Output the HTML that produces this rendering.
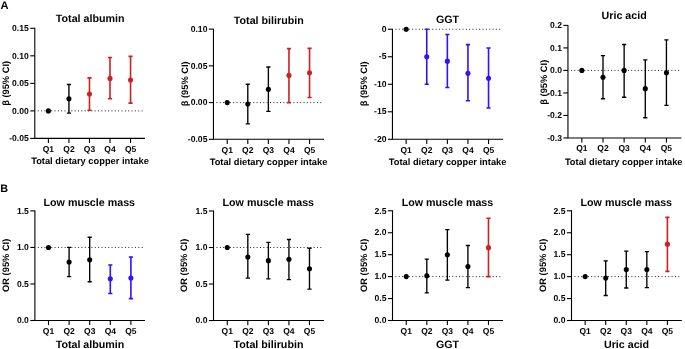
<!DOCTYPE html><html><head><meta charset="utf-8"><style>html,body{margin:0;padding:0;background:#fff;}svg{display:block;will-change:transform;filter:blur(0.2px);}text{font-family:"Liberation Sans", sans-serif;font-weight:bold;fill:#000;text-rendering:geometricPrecision;}</style></head><body>
<svg width="685" height="349" viewBox="0 0 685 349">
<rect width="685" height="349" fill="#fff"/>
<text x="0.4" y="8.5" font-size="11.1">A</text>
<text x="0.3" y="191.8" font-size="10.8">B</text>
<line x1="37.75" y1="110.88" x2="142.70" y2="110.88" stroke="#222" stroke-width="1" stroke-dasharray="1 2.35"/>
<path d="M34.80 27.80 V138.40 H145.00" fill="none" stroke="#000" stroke-width="1.10"/>
<line x1="30.20" y1="28.30" x2="34.80" y2="28.30" stroke="#000" stroke-width="1.10"/>
<text x="28.80" y="31.00" font-size="8.60" text-anchor="end">0.15</text>
<line x1="30.20" y1="55.82" x2="34.80" y2="55.82" stroke="#000" stroke-width="1.10"/>
<text x="28.80" y="58.52" font-size="8.60" text-anchor="end">0.10</text>
<line x1="30.20" y1="83.35" x2="34.80" y2="83.35" stroke="#000" stroke-width="1.10"/>
<text x="28.80" y="86.05" font-size="8.60" text-anchor="end">0.05</text>
<line x1="30.20" y1="110.88" x2="34.80" y2="110.88" stroke="#000" stroke-width="1.10"/>
<text x="28.80" y="113.58" font-size="8.60" text-anchor="end">0.00</text>
<line x1="30.20" y1="138.40" x2="34.80" y2="138.40" stroke="#000" stroke-width="1.10"/>
<text x="28.80" y="141.10" font-size="8.60" text-anchor="end">-0.05</text>
<line x1="48.40" y1="138.40" x2="48.40" y2="143.00" stroke="#000" stroke-width="1.10"/>
<text x="48.40" y="151.90" font-size="8.50" text-anchor="middle">Q1</text>
<line x1="68.94" y1="138.40" x2="68.94" y2="143.00" stroke="#000" stroke-width="1.10"/>
<text x="68.94" y="151.90" font-size="8.50" text-anchor="middle">Q2</text>
<line x1="89.47" y1="138.40" x2="89.47" y2="143.00" stroke="#000" stroke-width="1.10"/>
<text x="89.47" y="151.90" font-size="8.50" text-anchor="middle">Q3</text>
<line x1="110.01" y1="138.40" x2="110.01" y2="143.00" stroke="#000" stroke-width="1.10"/>
<text x="110.01" y="151.90" font-size="8.50" text-anchor="middle">Q4</text>
<line x1="130.55" y1="138.40" x2="130.55" y2="143.00" stroke="#000" stroke-width="1.10"/>
<text x="130.55" y="151.90" font-size="8.50" text-anchor="middle">Q5</text>
<circle cx="48.40" cy="110.88" r="2.55" fill="#000000"/>
<path d="M68.94 84.45 V113.08 M66.84 84.45 H71.04 M66.84 113.08 H71.04" fill="none" stroke="#000000" stroke-width="1.35"/>
<circle cx="68.94" cy="98.76" r="2.55" fill="#000000"/>
<path d="M89.47 77.84 V110.32 M87.38 77.84 H91.57 M87.38 110.32 H91.57" fill="none" stroke="#cc2222" stroke-width="1.60"/>
<circle cx="89.47" cy="93.97" r="2.55" fill="#cc2222"/>
<path d="M110.01 57.48 V98.76 M107.91 57.48 H112.11 M107.91 98.76 H112.11" fill="none" stroke="#cc2222" stroke-width="1.60"/>
<circle cx="110.01" cy="78.40" r="2.55" fill="#cc2222"/>
<path d="M130.55 56.38 V103.17 M128.45 56.38 H132.65 M128.45 103.17 H132.65" fill="none" stroke="#cc2222" stroke-width="1.60"/>
<circle cx="130.55" cy="80.05" r="2.55" fill="#cc2222"/>
<text x="90.20" y="22.10" font-size="10.70" text-anchor="middle">Total albumin</text>
<text x="90.00" y="164.40" font-size="9.30" text-anchor="middle">Total dietary copper intake</text>
<text x="0" y="0" font-size="9.30" text-anchor="middle" transform="translate(9.20 83.40) rotate(-90)">β (95% CI)</text>
<line x1="216.40" y1="102.58" x2="321.70" y2="102.58" stroke="#222" stroke-width="1" stroke-dasharray="1 2.35"/>
<path d="M213.45 28.63 V139.30 H324.00" fill="none" stroke="#000" stroke-width="1.10"/>
<line x1="208.85" y1="29.13" x2="213.45" y2="29.13" stroke="#000" stroke-width="1.10"/>
<text x="207.45" y="31.83" font-size="8.60" text-anchor="end">0.10</text>
<line x1="208.85" y1="65.85" x2="213.45" y2="65.85" stroke="#000" stroke-width="1.10"/>
<text x="207.45" y="68.55" font-size="8.60" text-anchor="end">0.05</text>
<line x1="208.85" y1="102.58" x2="213.45" y2="102.58" stroke="#000" stroke-width="1.10"/>
<text x="207.45" y="105.28" font-size="8.60" text-anchor="end">0.00</text>
<line x1="208.85" y1="139.30" x2="213.45" y2="139.30" stroke="#000" stroke-width="1.10"/>
<text x="207.45" y="142.00" font-size="8.60" text-anchor="end">-0.05</text>
<line x1="227.20" y1="139.30" x2="227.20" y2="143.90" stroke="#000" stroke-width="1.10"/>
<text x="227.20" y="152.80" font-size="8.50" text-anchor="middle">Q1</text>
<line x1="247.79" y1="139.30" x2="247.79" y2="143.90" stroke="#000" stroke-width="1.10"/>
<text x="247.79" y="152.80" font-size="8.50" text-anchor="middle">Q2</text>
<line x1="268.38" y1="139.30" x2="268.38" y2="143.90" stroke="#000" stroke-width="1.10"/>
<text x="268.38" y="152.80" font-size="8.50" text-anchor="middle">Q3</text>
<line x1="288.96" y1="139.30" x2="288.96" y2="143.90" stroke="#000" stroke-width="1.10"/>
<text x="288.96" y="152.80" font-size="8.50" text-anchor="middle">Q4</text>
<line x1="309.55" y1="139.30" x2="309.55" y2="143.90" stroke="#000" stroke-width="1.10"/>
<text x="309.55" y="152.80" font-size="8.50" text-anchor="middle">Q5</text>
<circle cx="227.20" cy="102.58" r="2.55" fill="#000000"/>
<path d="M247.79 84.22 V123.88 M245.69 84.22 H249.89 M245.69 123.88 H249.89" fill="none" stroke="#000000" stroke-width="1.35"/>
<circle cx="247.79" cy="104.05" r="2.55" fill="#000000"/>
<path d="M268.38 66.96 V111.39 M266.27 66.96 H270.48 M266.27 111.39 H270.48" fill="none" stroke="#000000" stroke-width="1.35"/>
<circle cx="268.38" cy="89.36" r="2.55" fill="#000000"/>
<path d="M288.96 48.59 V102.58 M286.86 48.59 H291.06 M286.86 102.58 H291.06" fill="none" stroke="#cc2222" stroke-width="1.60"/>
<circle cx="288.96" cy="75.40" r="2.55" fill="#cc2222"/>
<path d="M309.55 48.37 V97.44 M307.45 48.37 H311.65 M307.45 97.44 H311.65" fill="none" stroke="#cc2222" stroke-width="1.60"/>
<circle cx="309.55" cy="72.68" r="2.55" fill="#cc2222"/>
<text x="268.80" y="23.50" font-size="10.70" text-anchor="middle">Total bilirubin</text>
<text x="268.50" y="164.60" font-size="9.30" text-anchor="middle">Total dietary copper intake</text>
<text x="0" y="0" font-size="9.30" text-anchor="middle" transform="translate(188.20 83.80) rotate(-90)">β (95% CI)</text>
<line x1="395.40" y1="29.24" x2="500.70" y2="29.24" stroke="#222" stroke-width="1" stroke-dasharray="1 2.35"/>
<path d="M392.45 28.74 V139.30 H503.00" fill="none" stroke="#000" stroke-width="1.10"/>
<line x1="387.85" y1="29.24" x2="392.45" y2="29.24" stroke="#000" stroke-width="1.10"/>
<text x="386.45" y="31.94" font-size="8.60" text-anchor="end">0</text>
<line x1="387.85" y1="56.75" x2="392.45" y2="56.75" stroke="#000" stroke-width="1.10"/>
<text x="386.45" y="59.45" font-size="8.60" text-anchor="end">-5</text>
<line x1="387.85" y1="84.27" x2="392.45" y2="84.27" stroke="#000" stroke-width="1.10"/>
<text x="386.45" y="86.97" font-size="8.60" text-anchor="end">-10</text>
<line x1="387.85" y1="111.79" x2="392.45" y2="111.79" stroke="#000" stroke-width="1.10"/>
<text x="386.45" y="114.49" font-size="8.60" text-anchor="end">-15</text>
<line x1="387.85" y1="139.30" x2="392.45" y2="139.30" stroke="#000" stroke-width="1.10"/>
<text x="386.45" y="142.00" font-size="8.60" text-anchor="end">-20</text>
<line x1="406.15" y1="139.30" x2="406.15" y2="143.90" stroke="#000" stroke-width="1.10"/>
<text x="406.15" y="152.80" font-size="8.50" text-anchor="middle">Q1</text>
<line x1="426.75" y1="139.30" x2="426.75" y2="143.90" stroke="#000" stroke-width="1.10"/>
<text x="426.75" y="152.80" font-size="8.50" text-anchor="middle">Q2</text>
<line x1="447.35" y1="139.30" x2="447.35" y2="143.90" stroke="#000" stroke-width="1.10"/>
<text x="447.35" y="152.80" font-size="8.50" text-anchor="middle">Q3</text>
<line x1="467.95" y1="139.30" x2="467.95" y2="143.90" stroke="#000" stroke-width="1.10"/>
<text x="467.95" y="152.80" font-size="8.50" text-anchor="middle">Q4</text>
<line x1="488.55" y1="139.30" x2="488.55" y2="143.90" stroke="#000" stroke-width="1.10"/>
<text x="488.55" y="152.80" font-size="8.50" text-anchor="middle">Q5</text>
<circle cx="406.15" cy="29.24" r="2.55" fill="#000000"/>
<path d="M426.75 29.24 V84.27 M424.65 29.24 H428.85 M424.65 84.27 H428.85" fill="none" stroke="#3311ff" stroke-width="1.60"/>
<circle cx="426.75" cy="56.75" r="2.55" fill="#3311ff"/>
<path d="M447.35 34.47 V87.57 M445.25 34.47 H449.45 M445.25 87.57 H449.45" fill="none" stroke="#3311ff" stroke-width="1.60"/>
<circle cx="447.35" cy="61.16" r="2.55" fill="#3311ff"/>
<path d="M467.95 44.65 V100.78 M465.85 44.65 H470.05 M465.85 100.78 H470.05" fill="none" stroke="#3311ff" stroke-width="1.60"/>
<circle cx="467.95" cy="73.26" r="2.55" fill="#3311ff"/>
<path d="M488.55 47.95 V107.93 M486.45 47.95 H490.65 M486.45 107.93 H490.65" fill="none" stroke="#3311ff" stroke-width="1.60"/>
<circle cx="488.55" cy="78.22" r="2.55" fill="#3311ff"/>
<text x="447.50" y="23.40" font-size="10.70" text-anchor="middle">GGT</text>
<text x="447.60" y="165.00" font-size="9.30" text-anchor="middle">Total dietary copper intake</text>
<text x="0" y="0" font-size="9.30" text-anchor="middle" transform="translate(367.05 83.80) rotate(-90)">β (95% CI)</text>
<line x1="570.90" y1="70.42" x2="679.10" y2="70.42" stroke="#222" stroke-width="1" stroke-dasharray="1 2.35"/>
<path d="M567.95 24.90 V137.96 H681.40" fill="none" stroke="#000" stroke-width="1.10"/>
<line x1="563.35" y1="25.40" x2="567.95" y2="25.40" stroke="#000" stroke-width="1.10"/>
<text x="561.95" y="28.10" font-size="8.60" text-anchor="end">0.2</text>
<line x1="563.35" y1="47.91" x2="567.95" y2="47.91" stroke="#000" stroke-width="1.10"/>
<text x="561.95" y="50.61" font-size="8.60" text-anchor="end">0.1</text>
<line x1="563.35" y1="70.42" x2="567.95" y2="70.42" stroke="#000" stroke-width="1.10"/>
<text x="561.95" y="73.12" font-size="8.60" text-anchor="end">0.0</text>
<line x1="563.35" y1="92.94" x2="567.95" y2="92.94" stroke="#000" stroke-width="1.10"/>
<text x="561.95" y="95.64" font-size="8.60" text-anchor="end">-0.1</text>
<line x1="563.35" y1="115.45" x2="567.95" y2="115.45" stroke="#000" stroke-width="1.10"/>
<text x="561.95" y="118.15" font-size="8.60" text-anchor="end">-0.2</text>
<line x1="563.35" y1="137.96" x2="567.95" y2="137.96" stroke="#000" stroke-width="1.10"/>
<text x="561.95" y="140.66" font-size="8.60" text-anchor="end">-0.3</text>
<line x1="581.85" y1="137.96" x2="581.85" y2="142.56" stroke="#000" stroke-width="1.10"/>
<text x="581.85" y="151.46" font-size="8.50" text-anchor="middle">Q1</text>
<line x1="603.00" y1="137.96" x2="603.00" y2="142.56" stroke="#000" stroke-width="1.10"/>
<text x="603.00" y="151.46" font-size="8.50" text-anchor="middle">Q2</text>
<line x1="624.14" y1="137.96" x2="624.14" y2="142.56" stroke="#000" stroke-width="1.10"/>
<text x="624.14" y="151.46" font-size="8.50" text-anchor="middle">Q3</text>
<line x1="645.28" y1="137.96" x2="645.28" y2="142.56" stroke="#000" stroke-width="1.10"/>
<text x="645.28" y="151.46" font-size="8.50" text-anchor="middle">Q4</text>
<line x1="666.43" y1="137.96" x2="666.43" y2="142.56" stroke="#000" stroke-width="1.10"/>
<text x="666.43" y="151.46" font-size="8.50" text-anchor="middle">Q5</text>
<circle cx="581.85" cy="70.42" r="2.55" fill="#000000"/>
<path d="M603.00 55.57 V98.79 M600.89 55.57 H605.10 M600.89 98.79 H605.10" fill="none" stroke="#000000" stroke-width="1.35"/>
<circle cx="603.00" cy="77.18" r="2.55" fill="#000000"/>
<path d="M624.14 44.54 V97.21 M622.04 44.54 H626.24 M622.04 97.21 H626.24" fill="none" stroke="#000000" stroke-width="1.35"/>
<circle cx="624.14" cy="70.42" r="2.55" fill="#000000"/>
<path d="M645.28 59.84 V117.70 M643.18 59.84 H647.38 M643.18 117.70 H647.38" fill="none" stroke="#000000" stroke-width="1.35"/>
<circle cx="645.28" cy="88.66" r="2.55" fill="#000000"/>
<path d="M666.43 39.81 V105.32 M664.33 39.81 H668.53 M664.33 105.32 H668.53" fill="none" stroke="#000000" stroke-width="1.35"/>
<circle cx="666.43" cy="72.68" r="2.55" fill="#000000"/>
<text x="624.20" y="19.40" font-size="10.70" text-anchor="middle">Uric acid</text>
<text x="623.70" y="164.50" font-size="9.30" text-anchor="middle">Total dietary copper intake</text>
<text x="0" y="0" font-size="9.30" text-anchor="middle" transform="translate(546.60 82.20) rotate(-90)">β (95% CI)</text>
<line x1="37.85" y1="247.43" x2="142.70" y2="247.43" stroke="#222" stroke-width="1" stroke-dasharray="1 2.35"/>
<path d="M34.90 210.40 V320.50 H145.00" fill="none" stroke="#000" stroke-width="1.10"/>
<line x1="30.30" y1="210.90" x2="34.90" y2="210.90" stroke="#000" stroke-width="1.10"/>
<text x="28.90" y="213.60" font-size="8.60" text-anchor="end">1.5</text>
<line x1="30.30" y1="247.43" x2="34.90" y2="247.43" stroke="#000" stroke-width="1.10"/>
<text x="28.90" y="250.13" font-size="8.60" text-anchor="end">1.0</text>
<line x1="30.30" y1="283.97" x2="34.90" y2="283.97" stroke="#000" stroke-width="1.10"/>
<text x="28.90" y="286.67" font-size="8.60" text-anchor="end">0.5</text>
<line x1="30.30" y1="320.50" x2="34.90" y2="320.50" stroke="#000" stroke-width="1.10"/>
<text x="28.90" y="323.20" font-size="8.60" text-anchor="end">0.0</text>
<line x1="48.50" y1="320.50" x2="48.50" y2="325.10" stroke="#000" stroke-width="1.10"/>
<text x="48.50" y="334.00" font-size="8.50" text-anchor="middle">Q1</text>
<line x1="69.10" y1="320.50" x2="69.10" y2="325.10" stroke="#000" stroke-width="1.10"/>
<text x="69.10" y="334.00" font-size="8.50" text-anchor="middle">Q2</text>
<line x1="89.70" y1="320.50" x2="89.70" y2="325.10" stroke="#000" stroke-width="1.10"/>
<text x="89.70" y="334.00" font-size="8.50" text-anchor="middle">Q3</text>
<line x1="110.30" y1="320.50" x2="110.30" y2="325.10" stroke="#000" stroke-width="1.10"/>
<text x="110.30" y="334.00" font-size="8.50" text-anchor="middle">Q4</text>
<line x1="130.90" y1="320.50" x2="130.90" y2="325.10" stroke="#000" stroke-width="1.10"/>
<text x="130.90" y="334.00" font-size="8.50" text-anchor="middle">Q5</text>
<circle cx="48.50" cy="247.43" r="2.55" fill="#000000"/>
<path d="M69.10 247.43 V276.66 M67.00 247.43 H71.20 M67.00 276.66 H71.20" fill="none" stroke="#000000" stroke-width="1.35"/>
<circle cx="69.10" cy="262.05" r="2.55" fill="#000000"/>
<path d="M89.70 237.20 V281.77 M87.60 237.20 H91.80 M87.60 281.77 H91.80" fill="none" stroke="#000000" stroke-width="1.35"/>
<circle cx="89.70" cy="259.85" r="2.55" fill="#000000"/>
<path d="M110.30 264.97 V293.47 M108.20 264.97 H112.40 M108.20 293.47 H112.40" fill="none" stroke="#3311ff" stroke-width="1.60"/>
<circle cx="110.30" cy="278.85" r="2.55" fill="#3311ff"/>
<path d="M130.90 256.93 V298.58 M128.80 256.93 H133.00 M128.80 298.58 H133.00" fill="none" stroke="#3311ff" stroke-width="1.60"/>
<circle cx="130.90" cy="278.12" r="2.55" fill="#3311ff"/>
<text x="89.30" y="206.00" font-size="10.70" text-anchor="middle">Low muscle mass</text>
<text x="90.00" y="347.90" font-size="10.70" text-anchor="middle">Total albumin</text>
<text x="0" y="0" font-size="9.30" text-anchor="middle" transform="translate(8.80 265.30) rotate(-90)">OR (95% CI)</text>
<line x1="216.45" y1="247.52" x2="321.70" y2="247.52" stroke="#222" stroke-width="1" stroke-dasharray="1 2.35"/>
<path d="M213.50 210.50 V320.55 H324.00" fill="none" stroke="#000" stroke-width="1.10"/>
<line x1="208.90" y1="211.00" x2="213.50" y2="211.00" stroke="#000" stroke-width="1.10"/>
<text x="207.50" y="213.70" font-size="8.60" text-anchor="end">1.5</text>
<line x1="208.90" y1="247.52" x2="213.50" y2="247.52" stroke="#000" stroke-width="1.10"/>
<text x="207.50" y="250.22" font-size="8.60" text-anchor="end">1.0</text>
<line x1="208.90" y1="284.03" x2="213.50" y2="284.03" stroke="#000" stroke-width="1.10"/>
<text x="207.50" y="286.73" font-size="8.60" text-anchor="end">0.5</text>
<line x1="208.90" y1="320.55" x2="213.50" y2="320.55" stroke="#000" stroke-width="1.10"/>
<text x="207.50" y="323.25" font-size="8.60" text-anchor="end">0.0</text>
<line x1="227.27" y1="320.55" x2="227.27" y2="325.15" stroke="#000" stroke-width="1.10"/>
<text x="227.27" y="334.05" font-size="8.50" text-anchor="middle">Q1</text>
<line x1="247.82" y1="320.55" x2="247.82" y2="325.15" stroke="#000" stroke-width="1.10"/>
<text x="247.82" y="334.05" font-size="8.50" text-anchor="middle">Q2</text>
<line x1="268.38" y1="320.55" x2="268.38" y2="325.15" stroke="#000" stroke-width="1.10"/>
<text x="268.38" y="334.05" font-size="8.50" text-anchor="middle">Q3</text>
<line x1="288.93" y1="320.55" x2="288.93" y2="325.15" stroke="#000" stroke-width="1.10"/>
<text x="288.93" y="334.05" font-size="8.50" text-anchor="middle">Q4</text>
<line x1="309.48" y1="320.55" x2="309.48" y2="325.15" stroke="#000" stroke-width="1.10"/>
<text x="309.48" y="334.05" font-size="8.50" text-anchor="middle">Q5</text>
<circle cx="227.27" cy="247.52" r="2.55" fill="#000000"/>
<path d="M247.82 234.37 V278.19 M245.72 234.37 H249.92 M245.72 278.19 H249.92" fill="none" stroke="#000000" stroke-width="1.35"/>
<circle cx="247.82" cy="257.01" r="2.55" fill="#000000"/>
<path d="M268.38 242.40 V278.92 M266.27 242.40 H270.48 M266.27 278.92 H270.48" fill="none" stroke="#000000" stroke-width="1.35"/>
<circle cx="268.38" cy="260.66" r="2.55" fill="#000000"/>
<path d="M288.93 239.48 V279.65 M286.83 239.48 H291.03 M286.83 279.65 H291.03" fill="none" stroke="#000000" stroke-width="1.35"/>
<circle cx="288.93" cy="259.20" r="2.55" fill="#000000"/>
<path d="M309.48 248.25 V289.15 M307.38 248.25 H311.58 M307.38 289.15 H311.58" fill="none" stroke="#000000" stroke-width="1.35"/>
<circle cx="309.48" cy="268.70" r="2.55" fill="#000000"/>
<text x="268.30" y="206.00" font-size="10.70" text-anchor="middle">Low muscle mass</text>
<text x="268.50" y="347.90" font-size="10.70" text-anchor="middle">Total bilirubin</text>
<text x="0" y="0" font-size="9.30" text-anchor="middle" transform="translate(187.30 265.30) rotate(-90)">OR (95% CI)</text>
<line x1="395.45" y1="276.62" x2="500.70" y2="276.62" stroke="#222" stroke-width="1" stroke-dasharray="1 2.35"/>
<path d="M392.50 210.30 V320.50 H503.00" fill="none" stroke="#000" stroke-width="1.10"/>
<line x1="387.90" y1="210.80" x2="392.50" y2="210.80" stroke="#000" stroke-width="1.10"/>
<text x="386.50" y="213.50" font-size="8.60" text-anchor="end">2.5</text>
<line x1="387.90" y1="232.74" x2="392.50" y2="232.74" stroke="#000" stroke-width="1.10"/>
<text x="386.50" y="235.44" font-size="8.60" text-anchor="end">2.0</text>
<line x1="387.90" y1="254.68" x2="392.50" y2="254.68" stroke="#000" stroke-width="1.10"/>
<text x="386.50" y="257.38" font-size="8.60" text-anchor="end">1.5</text>
<line x1="387.90" y1="276.62" x2="392.50" y2="276.62" stroke="#000" stroke-width="1.10"/>
<text x="386.50" y="279.32" font-size="8.60" text-anchor="end">1.0</text>
<line x1="387.90" y1="298.56" x2="392.50" y2="298.56" stroke="#000" stroke-width="1.10"/>
<text x="386.50" y="301.26" font-size="8.60" text-anchor="end">0.5</text>
<line x1="387.90" y1="320.50" x2="392.50" y2="320.50" stroke="#000" stroke-width="1.10"/>
<text x="386.50" y="323.20" font-size="8.60" text-anchor="end">0.0</text>
<line x1="406.25" y1="320.50" x2="406.25" y2="325.10" stroke="#000" stroke-width="1.10"/>
<text x="406.25" y="334.00" font-size="8.50" text-anchor="middle">Q1</text>
<line x1="426.81" y1="320.50" x2="426.81" y2="325.10" stroke="#000" stroke-width="1.10"/>
<text x="426.81" y="334.00" font-size="8.50" text-anchor="middle">Q2</text>
<line x1="447.37" y1="320.50" x2="447.37" y2="325.10" stroke="#000" stroke-width="1.10"/>
<text x="447.37" y="334.00" font-size="8.50" text-anchor="middle">Q3</text>
<line x1="467.92" y1="320.50" x2="467.92" y2="325.10" stroke="#000" stroke-width="1.10"/>
<text x="467.92" y="334.00" font-size="8.50" text-anchor="middle">Q4</text>
<line x1="488.48" y1="320.50" x2="488.48" y2="325.10" stroke="#000" stroke-width="1.10"/>
<text x="488.48" y="334.00" font-size="8.50" text-anchor="middle">Q5</text>
<circle cx="406.25" cy="276.62" r="2.55" fill="#000000"/>
<path d="M426.81 259.07 V292.86 M424.71 259.07 H428.91 M424.71 292.86 H428.91" fill="none" stroke="#000000" stroke-width="1.35"/>
<circle cx="426.81" cy="275.74" r="2.55" fill="#000000"/>
<path d="M447.37 229.67 V280.13 M445.26 229.67 H449.47 M445.26 280.13 H449.47" fill="none" stroke="#000000" stroke-width="1.35"/>
<circle cx="447.37" cy="254.68" r="2.55" fill="#000000"/>
<path d="M467.92 245.47 V287.59 M465.82 245.47 H470.02 M465.82 287.59 H470.02" fill="none" stroke="#000000" stroke-width="1.35"/>
<circle cx="467.92" cy="266.53" r="2.55" fill="#000000"/>
<path d="M488.48 218.26 V276.62 M486.38 218.26 H490.58 M486.38 276.62 H490.58" fill="none" stroke="#cc2222" stroke-width="1.60"/>
<circle cx="488.48" cy="247.66" r="2.55" fill="#cc2222"/>
<text x="447.50" y="206.00" font-size="10.70" text-anchor="middle">Low muscle mass</text>
<text x="447.50" y="347.90" font-size="10.70" text-anchor="middle">GGT</text>
<text x="0" y="0" font-size="9.30" text-anchor="middle" transform="translate(366.80 265.30) rotate(-90)">OR (95% CI)</text>
<line x1="574.45" y1="276.62" x2="679.50" y2="276.62" stroke="#222" stroke-width="1" stroke-dasharray="1 2.35"/>
<path d="M571.50 210.30 V320.50 H681.80" fill="none" stroke="#000" stroke-width="1.10"/>
<line x1="566.90" y1="210.80" x2="571.50" y2="210.80" stroke="#000" stroke-width="1.10"/>
<text x="565.50" y="213.50" font-size="8.60" text-anchor="end">2.5</text>
<line x1="566.90" y1="232.74" x2="571.50" y2="232.74" stroke="#000" stroke-width="1.10"/>
<text x="565.50" y="235.44" font-size="8.60" text-anchor="end">2.0</text>
<line x1="566.90" y1="254.68" x2="571.50" y2="254.68" stroke="#000" stroke-width="1.10"/>
<text x="565.50" y="257.38" font-size="8.60" text-anchor="end">1.5</text>
<line x1="566.90" y1="276.62" x2="571.50" y2="276.62" stroke="#000" stroke-width="1.10"/>
<text x="565.50" y="279.32" font-size="8.60" text-anchor="end">1.0</text>
<line x1="566.90" y1="298.56" x2="571.50" y2="298.56" stroke="#000" stroke-width="1.10"/>
<text x="565.50" y="301.26" font-size="8.60" text-anchor="end">0.5</text>
<line x1="566.90" y1="320.50" x2="571.50" y2="320.50" stroke="#000" stroke-width="1.10"/>
<text x="565.50" y="323.20" font-size="8.60" text-anchor="end">0.0</text>
<line x1="585.15" y1="320.50" x2="585.15" y2="325.10" stroke="#000" stroke-width="1.10"/>
<text x="585.15" y="334.00" font-size="8.50" text-anchor="middle">Q1</text>
<line x1="605.71" y1="320.50" x2="605.71" y2="325.10" stroke="#000" stroke-width="1.10"/>
<text x="605.71" y="334.00" font-size="8.50" text-anchor="middle">Q2</text>
<line x1="626.27" y1="320.50" x2="626.27" y2="325.10" stroke="#000" stroke-width="1.10"/>
<text x="626.27" y="334.00" font-size="8.50" text-anchor="middle">Q3</text>
<line x1="646.84" y1="320.50" x2="646.84" y2="325.10" stroke="#000" stroke-width="1.10"/>
<text x="646.84" y="334.00" font-size="8.50" text-anchor="middle">Q4</text>
<line x1="667.40" y1="320.50" x2="667.40" y2="325.10" stroke="#000" stroke-width="1.10"/>
<text x="667.40" y="334.00" font-size="8.50" text-anchor="middle">Q5</text>
<circle cx="585.15" cy="276.62" r="2.55" fill="#000000"/>
<path d="M605.71 260.82 V295.49 M603.61 260.82 H607.81 M603.61 295.49 H607.81" fill="none" stroke="#000000" stroke-width="1.35"/>
<circle cx="605.71" cy="277.94" r="2.55" fill="#000000"/>
<path d="M626.27 251.17 V288.03 M624.17 251.17 H628.38 M624.17 288.03 H628.38" fill="none" stroke="#000000" stroke-width="1.35"/>
<circle cx="626.27" cy="269.60" r="2.55" fill="#000000"/>
<path d="M646.84 251.61 V287.59 M644.74 251.61 H648.94 M644.74 287.59 H648.94" fill="none" stroke="#000000" stroke-width="1.35"/>
<circle cx="646.84" cy="269.60" r="2.55" fill="#000000"/>
<path d="M667.40 217.38 V271.35 M665.30 217.38 H669.50 M665.30 271.35 H669.50" fill="none" stroke="#cc2222" stroke-width="1.60"/>
<circle cx="667.40" cy="244.15" r="2.55" fill="#cc2222"/>
<text x="626.30" y="206.00" font-size="10.70" text-anchor="middle">Low muscle mass</text>
<text x="626.50" y="347.90" font-size="10.70" text-anchor="middle">Uric acid</text>
<text x="0" y="0" font-size="9.30" text-anchor="middle" transform="translate(545.60 265.30) rotate(-90)">OR (95% CI)</text>
</svg></body></html>
